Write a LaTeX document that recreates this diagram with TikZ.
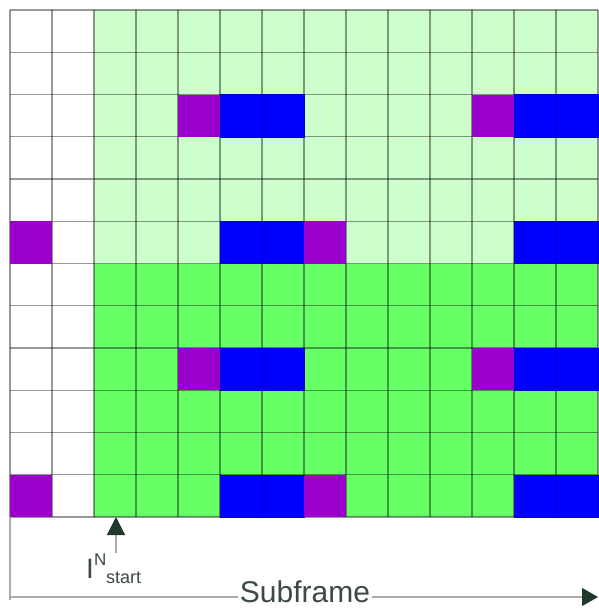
\documentclass[tikz,border=0pt]{standalone}
\usepackage{fontspec}
\setmainfont{Liberation Sans}
\usetikzlibrary{arrows.meta}
\definecolor{lightgrn}{HTML}{CCFFCC}
\definecolor{brightgrn}{HTML}{66FF66}
\definecolor{purp}{HTML}{9900CC}
\definecolor{blu}{HTML}{0000FF}
\definecolor{txtc}{HTML}{3C4A42}
\definecolor{tipc}{HTML}{1F3A2C}
\definecolor{axisc}{HTML}{ABABAB}
\tikzset{
  gridline/.style={draw=black, draw opacity=0.4, line width=1.2pt},
  purpcell/.style={fill=purp},
  blucell/.style={fill=blu, draw=blu!80!black, line width=0.5pt},
  lbl/.style={inner sep=0pt, text=txtc},
}
\begin{document}
\begin{tikzpicture}[x=1pt,y=-1pt]
\useasboundingbox (0,0) rectangle (598,610);
\fill[white] (0,0) rectangle (598,610);
% backgrounds
\fill[lightgrn] (94,10) rectangle (598,263.5);
\fill[brightgrn] (94,263.5) rectangle (598,517);
% grid
\foreach \j in {0,...,14} {
  \draw[gridline] ({10+42*\j},10) -- ({10+42*\j},517);
}
\foreach \i in {0,...,12} {
  \draw[gridline] (10,{10+42.25*\i}) -- (598,{10+42.25*\i});
}
% coloured cells
\foreach \r in {2,8} {
  \fill[purpcell] ({10+42*4},{10+42.25*\r}) rectangle ++(42,42.25);
  \draw[blucell] ({10+42*5},{10+42.25*\r}) rectangle ++(42,42.25);
  \draw[blucell] ({10+42*6},{10+42.25*\r}) rectangle ++(42,42.25);
  \fill[purpcell] ({10+42*11},{10+42.25*\r}) rectangle ++(42,42.25);
  \draw[blucell] ({10+42*12},{10+42.25*\r}) rectangle ++(42,42.25);
  \draw[blucell] ({10+42*13},{10+42.25*\r}) rectangle ++(42,42.25);
}
\foreach \r in {5,11} {
  \fill[purpcell] ({10},{10+42.25*\r}) rectangle ++(42,42.25);
  \draw[blucell] ({10+42*5},{10+42.25*\r}) rectangle ++(42,42.25);
  \draw[blucell] ({10+42*6},{10+42.25*\r}) rectangle ++(42,42.25);
  \fill[purpcell] ({10+42*7},{10+42.25*\r}) rectangle ++(42,42.25);
  \draw[blucell] ({10+42*12},{10+42.25*\r}) rectangle ++(42,42.25);
  \draw[blucell] ({10+42*13},{10+42.25*\r}) rectangle ++(42,42.25);
}
% axis
\coordinate (gl) at (10,517);
\coordinate (al) at (10,597);
\coordinate (ar) at (598,597);
\draw[axisc, line width=1.2pt] (gl) -- (10,600);
\draw[axisc, line width=1.2pt, -{Triangle[length=16pt,width=18pt,color=tipc]}] (al) -- (ar);
\node[lbl, fill=white, inner xsep=2pt, anchor=base] (sub) at (305,602) {\fontsize{30}{36}\selectfont Subframe};
% start marker
\coordinate (sb) at (116,553);
\coordinate (st) at (116,517);
\draw[axisc, line width=1.2pt, -{Triangle[length=18pt,width=18pt,color=tipc]}] (sb) -- (st);
\node[lbl, anchor=base west] (iI) at (86,578) {\fontsize{28}{32}\selectfont I};
\node[lbl, anchor=base west] (iN) at (94,565) {\fontsize{17}{20}\selectfont N};
\node[lbl, anchor=base west] (is) at (106,583) {\fontsize{18}{20}\selectfont start};
\end{tikzpicture}
\end{document}
